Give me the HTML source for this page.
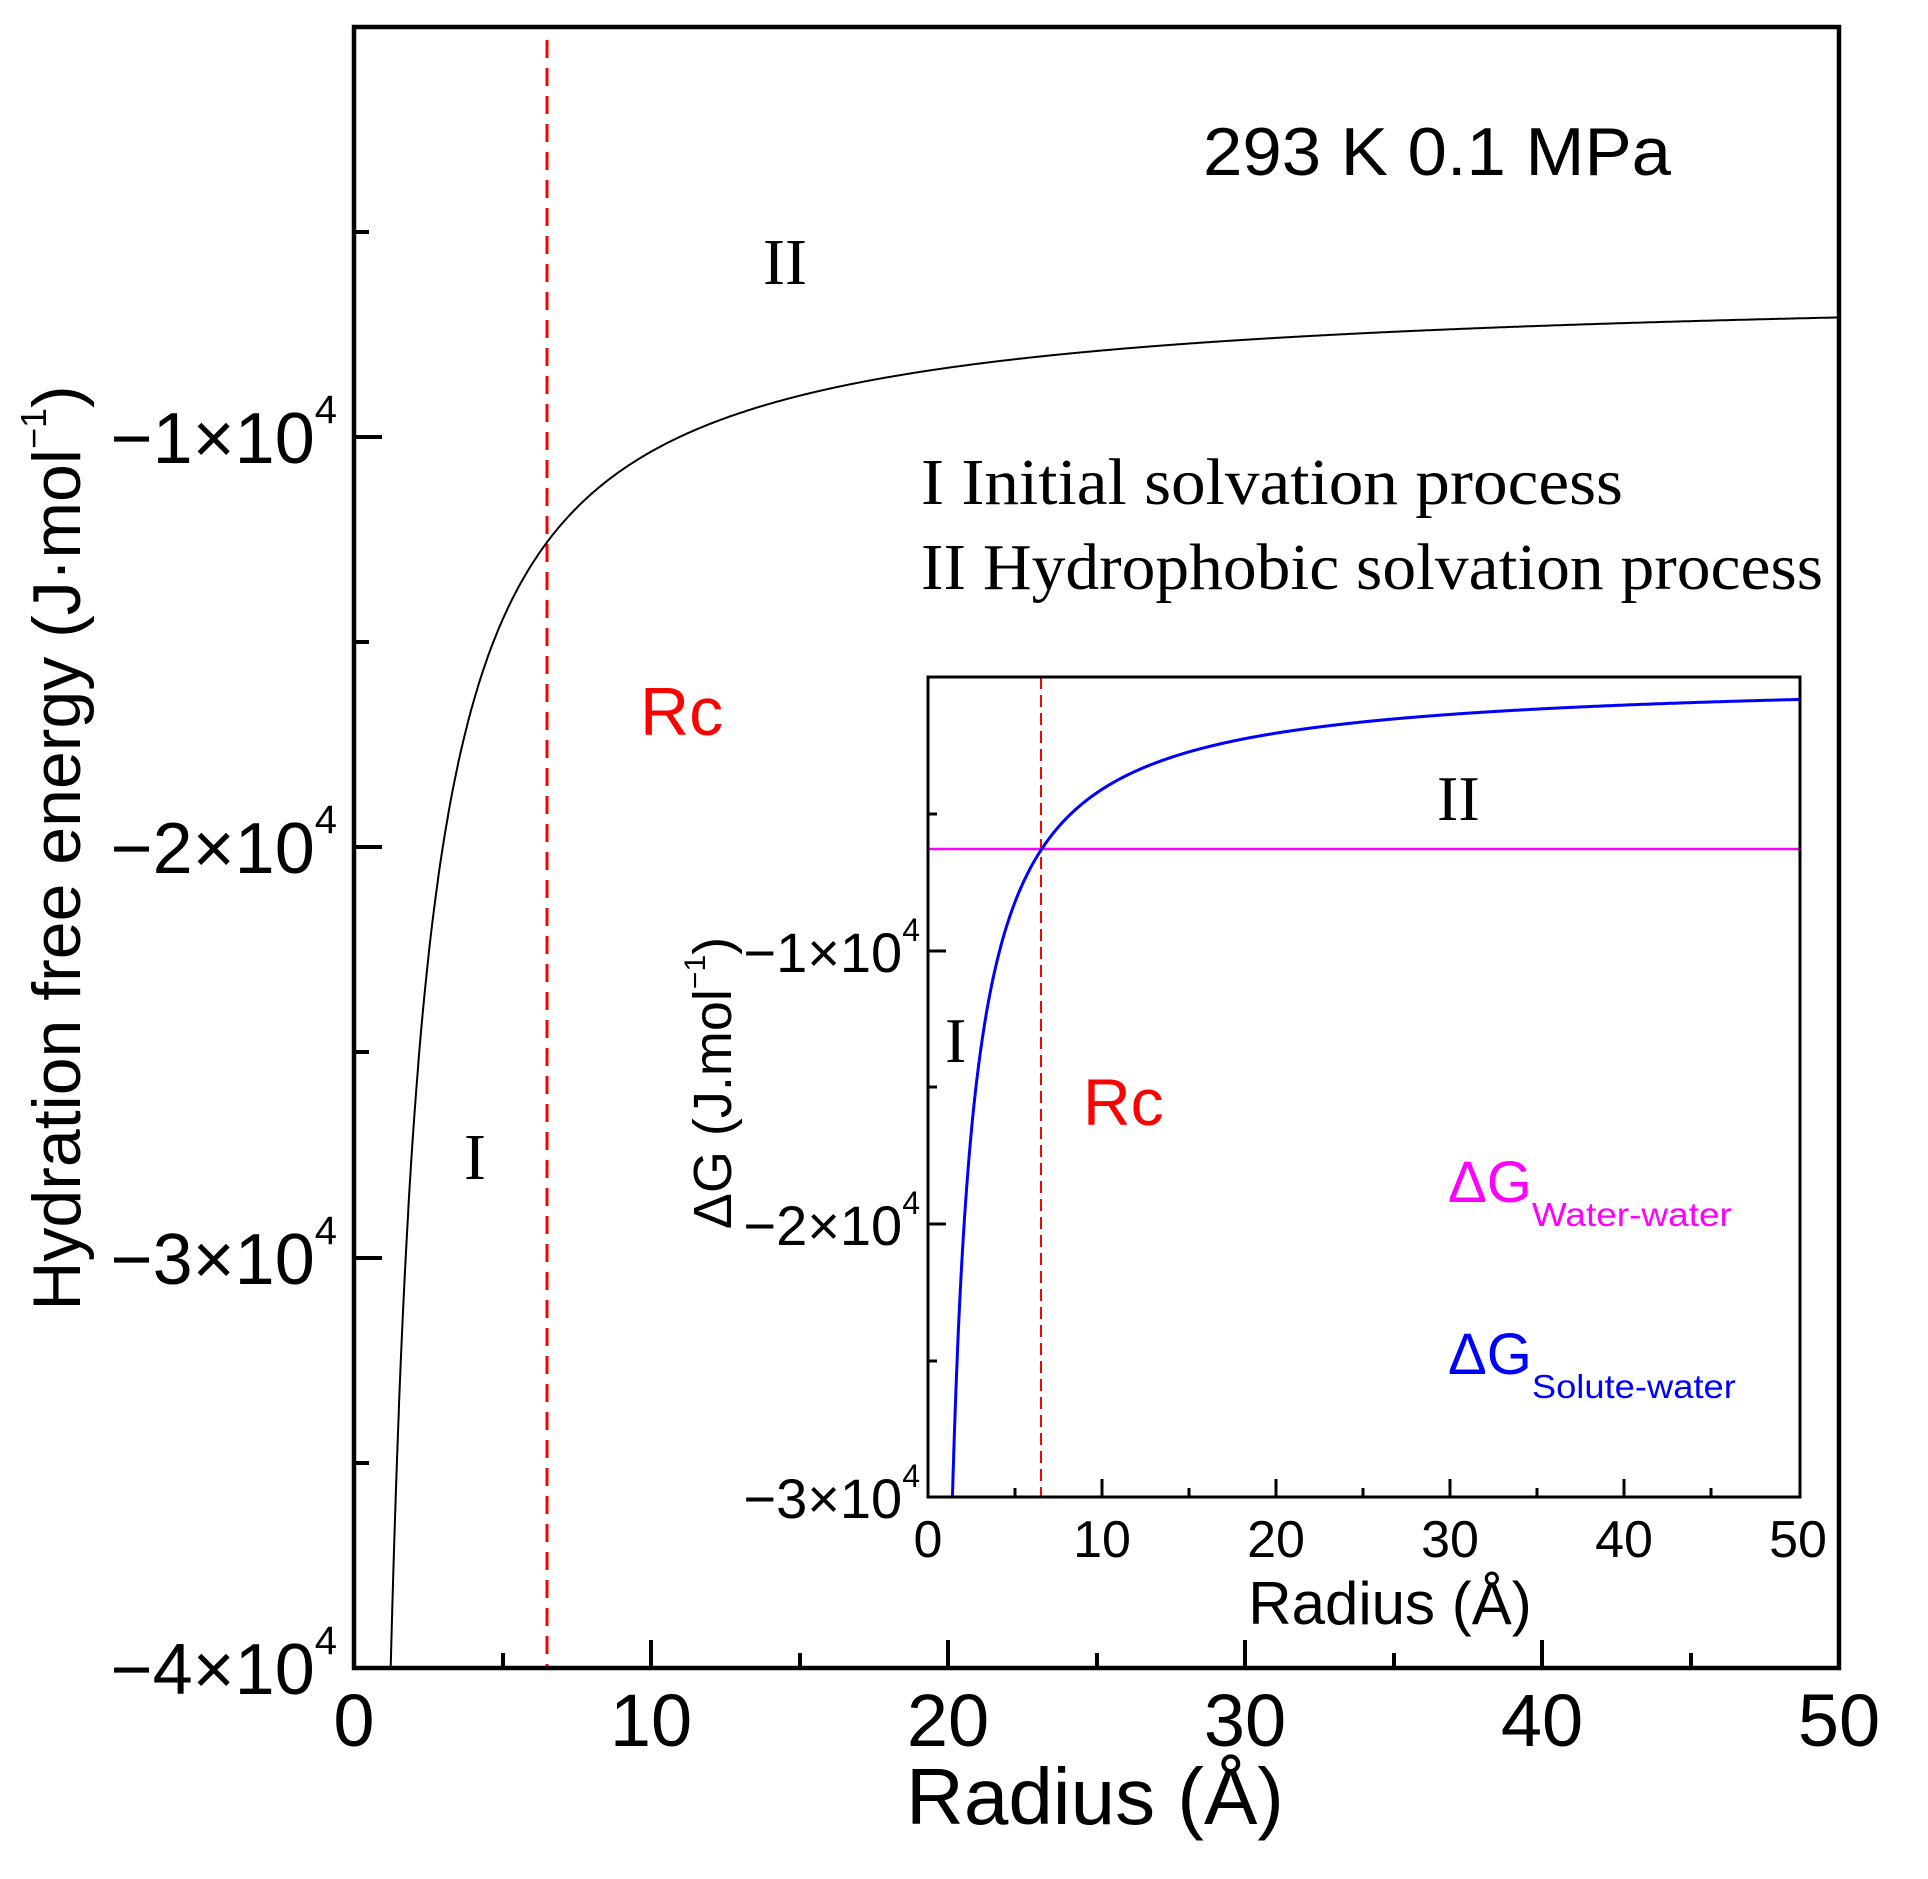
<!DOCTYPE html>
<html><head><meta charset="utf-8"><style>
html,body{margin:0;padding:0;background:#fff;}
svg{display:block;}
.a{font-family:"Liberation Sans",Arial,sans-serif;}
.t{font-family:"Liberation Serif","Times New Roman",serif;}
</style></head><body>
<svg id="s" width="1928" height="1879" viewBox="0 0 1928 1879" xmlns="http://www.w3.org/2000/svg">
<defs>
<clipPath id="cm"><rect x="354" y="27" width="1485" height="1641"/></clipPath>
<clipPath id="ci"><rect x="928" y="677" width="872" height="820"/></clipPath>
</defs>
<rect width="1928" height="1879" fill="#fff"/>
<line x1="547" y1="40" x2="547" y2="1668" stroke="#f00" stroke-width="3" stroke-dasharray="18,10"/>
<path id="mc" d="" fill="none" stroke="#000" stroke-width="2" clip-path="url(#cm)"/>
<rect x="354" y="27" width="1485" height="1641" fill="none" stroke="#000" stroke-width="4.5"/>
<g stroke="#000" stroke-width="4">
<line x1="651" y1="1668" x2="651" y2="1640"/><line x1="948" y1="1668" x2="948" y2="1640"/><line x1="1245" y1="1668" x2="1245" y2="1640"/><line x1="1542" y1="1668" x2="1542" y2="1640"/>
<line x1="503" y1="1668" x2="503" y2="1653"/><line x1="800" y1="1668" x2="800" y2="1653"/><line x1="1097" y1="1668" x2="1097" y2="1653"/><line x1="1394" y1="1668" x2="1394" y2="1653"/><line x1="1691" y1="1668" x2="1691" y2="1653"/>
<line x1="354" y1="437" x2="382" y2="437"/><line x1="354" y1="847" x2="382" y2="847"/><line x1="354" y1="1258" x2="382" y2="1258"/>
<line x1="354" y1="232" x2="369" y2="232"/><line x1="354" y1="642" x2="369" y2="642"/><line x1="354" y1="1052" x2="369" y2="1052"/><line x1="354" y1="1463" x2="369" y2="1463"/>
</g>
<g class="a" font-size="74" text-anchor="middle">
<text x="354" y="1746">0</text><text x="651" y="1746">10</text><text x="948" y="1746">20</text><text x="1245" y="1746">30</text><text x="1542" y="1746">40</text><text x="1839" y="1746">50</text>
</g>
<g class="a" font-size="72" text-anchor="end">
<text x="337" y="463">−1×10<tspan font-size="40" dy="-40">4</tspan></text>
<text x="337" y="873">−2×10<tspan font-size="40" dy="-40">4</tspan></text>
<text x="337" y="1284">−3×10<tspan font-size="40" dy="-40">4</tspan></text>
<text x="337" y="1694">−4×10<tspan font-size="40" dy="-40">4</tspan></text>
</g>
<text class="a" font-size="80" x="1095" y="1824" text-anchor="middle">Radius (Å)</text>
<text class="a" font-size="68" transform="translate(80,848) rotate(-90)" text-anchor="middle">Hydration free energy (J·mol<tspan font-size="36" dy="-34">−1</tspan><tspan dy="34">)</tspan></text>
<text class="a" font-size="68" x="1203" y="175" textLength="468" lengthAdjust="spacingAndGlyphs">293 K  0.1 MPa</text>
<text class="t" font-size="66" x="763" y="284">II</text>
<text class="t" font-size="66" x="464" y="1179">I</text>
<text class="t" font-size="66" x="921" y="504" textLength="702" lengthAdjust="spacingAndGlyphs">I  Initial solvation process</text>
<text class="t" font-size="66" x="921" y="589" textLength="902" lengthAdjust="spacingAndGlyphs">II Hydrophobic solvation process</text>
<text class="a" font-size="68" fill="#f00" x="640" y="735">Rc</text>

<rect x="928" y="677" width="872" height="820" fill="#fff"/>
<line x1="1041" y1="677" x2="1041" y2="1497" stroke="#f00" stroke-width="2" stroke-dasharray="12,6"/>
<line x1="928" y1="849" x2="1800" y2="849" stroke="#f0f" stroke-width="2.5"/>
<path id="ic" d="" fill="none" stroke="#00f" stroke-width="3" clip-path="url(#ci)"/>
<rect x="928" y="677" width="872" height="820" fill="none" stroke="#000" stroke-width="3"/>
<g stroke="#000" stroke-width="3">
<line x1="1102" y1="1497" x2="1102" y2="1479"/><line x1="1276" y1="1497" x2="1276" y2="1479"/><line x1="1450" y1="1497" x2="1450" y2="1479"/><line x1="1624" y1="1497" x2="1624" y2="1479"/>
<line x1="1015" y1="1497" x2="1015" y2="1488"/><line x1="1189" y1="1497" x2="1189" y2="1488"/><line x1="1363" y1="1497" x2="1363" y2="1488"/><line x1="1537" y1="1497" x2="1537" y2="1488"/><line x1="1711" y1="1497" x2="1711" y2="1488"/>
<line x1="928" y1="951" x2="946" y2="951"/><line x1="928" y1="1224" x2="946" y2="1224"/>
<line x1="928" y1="814" x2="937" y2="814"/><line x1="928" y1="1087" x2="937" y2="1087"/><line x1="928" y1="1361" x2="937" y2="1361"/>
</g>
<g class="a" font-size="52" text-anchor="middle">
<text x="928" y="1557">0</text><text x="1102" y="1557">10</text><text x="1276" y="1557">20</text><text x="1450" y="1557">30</text><text x="1624" y="1557">40</text><text x="1798" y="1557">50</text>
</g>
<g class="a" font-size="56" text-anchor="end">
<text x="920" y="972">−1×10<tspan font-size="32" dy="-31">4</tspan></text>
<text x="920" y="1245">−2×10<tspan font-size="32" dy="-31">4</tspan></text>
<text x="920" y="1518">−3×10<tspan font-size="32" dy="-31">4</tspan></text>
</g>
<text class="a" font-size="60" x="1390" y="1624" text-anchor="middle">Radius (Å)</text>
<text class="a" font-size="54" transform="translate(731,1083) rotate(-90)" text-anchor="middle">ΔG (J.mol<tspan font-size="30" dy="-26">−1</tspan><tspan dy="26">)</tspan></text>
<text class="t" font-size="64" x="1437" y="820">II</text>
<text class="t" font-size="64" x="945" y="1062">I</text>
<text class="a" font-size="66" fill="#f00" x="1083" y="1125">Rc</text>
<text class="a" font-size="58" fill="#f0f" x="1448" y="1202">ΔG<tspan font-size="33" dy="24" textLength="200" lengthAdjust="spacingAndGlyphs">Water-water</tspan></text>
<text class="a" font-size="58" fill="#00f" x="1448" y="1374">ΔG<tspan font-size="33" dy="24" textLength="204" lengthAdjust="spacingAndGlyphs">Solute-water</tspan></text>
</svg>
<script>
function path(f,x0,sx,y0,sy,rmin){var d="",pts=[];
for(var i=0;;i++){var r=rmin+i*0.02;if(r>50)break;pts.push(r);}
pts.push(50);
for(var k=0;k<pts.length;k++){var r=pts[k];var y=y0-sy*f(r);if(y>y0+sy*45)continue;
d+=(d?" L":"M")+(x0+sx*r).toFixed(1)+","+y.toFixed(1);}return d;}
document.getElementById("mc").setAttribute("d",path(function(r){return -6.26-40.9/r-1.2/Math.pow(r,3);},354,29.7,27,41.03,1.0));
document.getElementById("ic").setAttribute("d",path(function(r){return -41/r-2.0/Math.pow(r,3);},928,17.44,677,27.33,1.0));
</script>
</body></html>
